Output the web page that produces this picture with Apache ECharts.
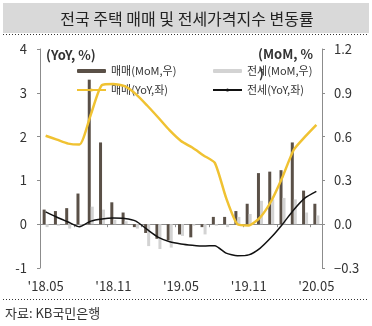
<!DOCTYPE html>
<html><head><meta charset="utf-8">
<script src="https://cdn.jsdelivr.net/npm/echarts@6/dist/echarts.min.js"></script>
<style>html,body{margin:0;padding:0;background:#fff}#c{width:372px;height:326px}</style>
</head><body><div id="c"></div>
<script>
const months = ["'18.05","'18.06","'18.07","'18.08","'18.09","'18.10","'18.11","'18.12","'19.01","'19.02","'19.03","'19.04","'19.05","'19.06","'19.07","'19.08","'19.09","'19.10","'19.11","'19.12","'20.01","'20.02","'20.03","'20.04","'20.05"];
const saleMoM = [0.10,0.09,0.11,0.21,0.99,0.56,0.15,0.08,-0.02,-0.06,-0.10,-0.11,-0.07,-0.09,-0.02,0.05,0.05,0.09,0.14,0.35,0.36,0.37,0.56,0.23,0.14];
const jeonseMoM = [-0.02,-0.01,-0.03,-0.02,0.12,0.10,0.03,0.02,-0.03,-0.15,-0.17,-0.16,-0.08,-0.01,-0.07,-0.01,-0.02,0.05,0.07,0.16,0.17,0.18,0.17,0.08,0.06];
const saleYoY = [2.02,1.93,1.84,1.82,2.5,3.18,3.2,3.15,2.97,2.71,2.43,2.14,1.9,1.75,1.57,1.4,0.6,0.0,-0.03,0.15,0.53,1.08,1.7,2.0,2.27];
const jeonseYoY = [0.28,0.16,0.05,-0.06,0.07,0.12,0.14,0.13,0.07,-0.12,-0.3,-0.4,-0.45,-0.48,-0.5,-0.49,-0.66,-0.72,-0.7,-0.55,-0.3,0.0,0.33,0.6,0.75];
const leftTicks = {min:-1, max:4, interval:1};
const rightTicks = {min:-0.3, max:1.2, interval:0.3};
const names = {saleMoM:'매매(MoM,우)', saleYoY:'매매(YoY,좌)', jeonseMoM:'전세(MoM,우)', jeonseYoY:'전세(YoY,좌)'};

const FF = '"Noto Sans CJK KR", "Noto Sans", sans-serif';
const chart = echarts.init(document.getElementById('c'), null, {renderer:'canvas'});
const axisGray = '#8c8c8c';
const legendText = {fontSize:11, color:'#333', fontFamily:FF, lineHeight:12};
chart.setOption({
  animation:false,
  textStyle:{fontFamily:FF},
  grid:{left:40, right:50, top:49, bottom:58},
  legend:[
    {data:[names.saleMoM, names.saleYoY], orient:'vertical', left:71, top:60, itemWidth:29, itemHeight:4, itemGap:7, textStyle:legendText},
    {data:[names.jeonseMoM, names.jeonseYoY], orient:'vertical', left:207, top:60, itemWidth:29, itemHeight:4, itemGap:7, textStyle:legendText}
  ],
  xAxis:[
    {type:'category', data:months, position:'bottom', axisLine:{show:false, onZero:false}, axisTick:{show:false},
     axisLabel:{interval:5, margin:12, fontSize:13, color:'#333', fontFamily:FF}},
    {type:'category', data:months, position:'bottom', axisLine:{show:true, onZero:true, lineStyle:{color:axisGray}},
     axisTick:{show:true, interval:2, length:3, lineStyle:{color:axisGray}}, axisLabel:{show:false}}
  ],
  yAxis:[
    {type:'value', position:'left', min:leftTicks.min, max:leftTicks.max, interval:leftTicks.interval,
     axisLine:{show:true, lineStyle:{color:axisGray}}, axisTick:{show:true, length:3, lineStyle:{color:axisGray}},
     splitLine:{show:false}, axisLabel:{margin:13, fontSize:13, color:'#333', fontFamily:FF}},
    {type:'value', position:'right', min:rightTicks.min, max:rightTicks.max, interval:rightTicks.interval,
     axisLine:{show:true, lineStyle:{color:axisGray}}, axisTick:{show:true, length:3, lineStyle:{color:axisGray}},
     splitLine:{show:false}, axisLabel:{margin:12, fontSize:13, color:'#333', fontFamily:FF,
       formatter:v=>{const s=Math.abs(v).toFixed(1); return v<-1e-9?'\u2212'+s:s;}}}
  ],
  series:[
    {name:names.saleMoM, type:'bar', xAxisIndex:1, yAxisIndex:1, data:saleMoM, barWidth:3, barGap:'0%', itemStyle:{color:'#5a5047'}, z:2},
    {name:names.jeonseMoM, type:'bar', xAxisIndex:1, yAxisIndex:1, data:jeonseMoM, barWidth:3, barGap:'0%', itemStyle:{color:'#d3d3d3'}, z:2},
    {name:names.saleYoY, type:'line', xAxisIndex:1, yAxisIndex:0, data:saleYoY, showSymbol:false, symbol:'none', smooth:0.2, lineStyle:{color:'#f0c232', width:2.5}, itemStyle:{color:'#f0c232'}, z:4},
    {name:names.jeonseYoY, type:'line', xAxisIndex:1, yAxisIndex:0, data:jeonseYoY, showSymbol:false, symbol:'none', smooth:0.2, lineStyle:{color:'#111', width:1.5}, itemStyle:{color:'#111'}, z:5}
  ],
  graphic:[
    {type:'rect', shape:{x:3, y:3, width:366, height:30}, style:{fill:'#d9d9d9'}, z:0},
    {type:'line', shape:{x1:3, y1:34.5, x2:369, y2:34.5}, style:{stroke:'#333', lineWidth:1, lineDash:[1,2]}},
    {type:'line', shape:{x1:3, y1:299.5, x2:368, y2:299.5}, style:{stroke:'#333', lineWidth:1, lineDash:[1,2]}},
    {type:'text', x:187, y:19, style:{text:'전국 주택 매매 및 전세가격지수 변동률', fill:'#222', font:'16px '+FF, textAlign:'center', textVerticalAlign:'middle'}},
    {type:'text', x:5, y:313, style:{text:'자료: KB국민은행', fill:'#333', font:'13px '+FF, textAlign:'left', textVerticalAlign:'middle'}},
    {type:'text', x:46, y:55, style:{text:'(YoY, %)', fill:'#333', font:'bold 13px '+FF, textAlign:'left', textVerticalAlign:'middle'}},
    {type:'text', x:258, y:54, style:{text:'(MoM, %', fill:'#333', font:'bold 13px '+FF, textAlign:'left', textVerticalAlign:'middle'}},
    {type:'text', x:259, y:73, style:{text:')', fill:'#333', font:'bold 13px '+FF, textAlign:'left', textVerticalAlign:'middle'}}
  ]
});
</script></body></html>
